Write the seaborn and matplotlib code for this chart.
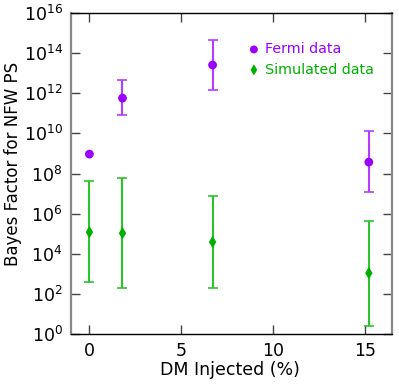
import numpy as np
import pandas as pd
import matplotlib
matplotlib.use("Agg")
import matplotlib.pyplot as plt
import seaborn as sns

# values (log10 of the Bayes factor)
dm_fermi = [0.0, 1.8, 6.7, 15.2]
bf_fermi = [8.97, 11.76, 13.41, 8.57]
bf_fermi_hi = [np.nan, 12.66, 14.66, 10.12]
bf_fermi_lo = [np.nan, 10.92, 12.16, 7.08]

dm_sim = [0.0, 1.8, 6.7, 15.2]
bf_sim = [5.08, 5.03, 4.59, 3.04]
bf_sim_hi = [7.63, 7.78, 6.88, 5.65]
bf_sim_lo = [2.59, 2.29, 2.28, 0.41]

purple, purple_bar = "#9a00ff", "#b53cff"
green, green_bar = "#00b000", "#2cc42c"

sns.set_style("ticks")
plt.rcParams["font.family"] = ["DejaVu Sans"]
plt.rcParams["text.color"] = "black"
plt.rcParams["axes.labelcolor"] = "black"
plt.rcParams["xtick.color"] = "black"
plt.rcParams["ytick.color"] = "black"

fig = plt.figure(figsize=(3.99, 3.84), dpi=100)
ax = fig.add_axes([0.178, 0.130, 0.804, 0.836])

def draw(x, y, hi, lo, col, bar_col, marker, label, ms):
    y = 10 ** np.array(y)
    hi = 10 ** np.array(hi)
    lo = 10 ** np.array(lo)
    err = np.vstack([y - lo, hi - y])
    ok = ~np.isnan(err[0])
    ax.errorbar(np.array(x)[ok], y[ok], yerr=err[:, ok], fmt="none",
                ecolor=bar_col, elinewidth=1.5, capsize=3.5, capthick=1.2, zorder=2)
    df = pd.DataFrame({"x": x, "y": y})
    sns.scatterplot(data=df, x="x", y="y", ax=ax, color=col, marker=marker,
                    s=ms, edgecolor="none", label=label, zorder=3)

draw(dm_fermi, bf_fermi, bf_fermi_hi, bf_fermi_lo, purple, purple_bar, "o", "Fermi data", 40)
draw(dm_sim, bf_sim, bf_sim_hi, bf_sim_lo, green, green_bar, "d", "Simulated data", 40)

ax.set_yscale("log")
ax.set_ylim(1, 1e16)
ax.set_xlim(-1, 16.45)
ax.set_yticks([10.0 ** k for k in range(0, 17, 2)])
ax.yaxis.set_minor_locator(matplotlib.ticker.NullLocator())
ax.set_xticks([0, 5, 10, 15])
ax.tick_params(direction="in", length=6.5, width=1, labelsize=12.5, pad=6,
               top=True, right=True, color="#444444")
ax.set_xlabel("DM Injected (%)", fontsize=12.5)
ax.set_ylabel("Bayes Factor for NFW PS", fontsize=12)
ax.xaxis.set_label_coords(0.494, -0.084)
ax.yaxis.set_label_coords(-0.153, 0.531)

for side in ["left", "right"]:
    ax.spines[side].set_color("#888888")
    ax.spines[side].set_linewidth(1.6)
for side in ["top", "bottom"]:
    ax.spines[side].set_color("black")
    ax.spines[side].set_linewidth(1)

leg = ax.legend(loc="upper left", bbox_to_anchor=(0.521, 0.927), frameon=False,
                fontsize=10.3, handletextpad=0.1, handlelength=1.4, markerscale=0.9,
                borderaxespad=0, labelspacing=0.45)
for txt, c in zip(leg.get_texts(), [purple, green]):
    txt.set_color(c)

fig.savefig("out.png", dpi=100)
